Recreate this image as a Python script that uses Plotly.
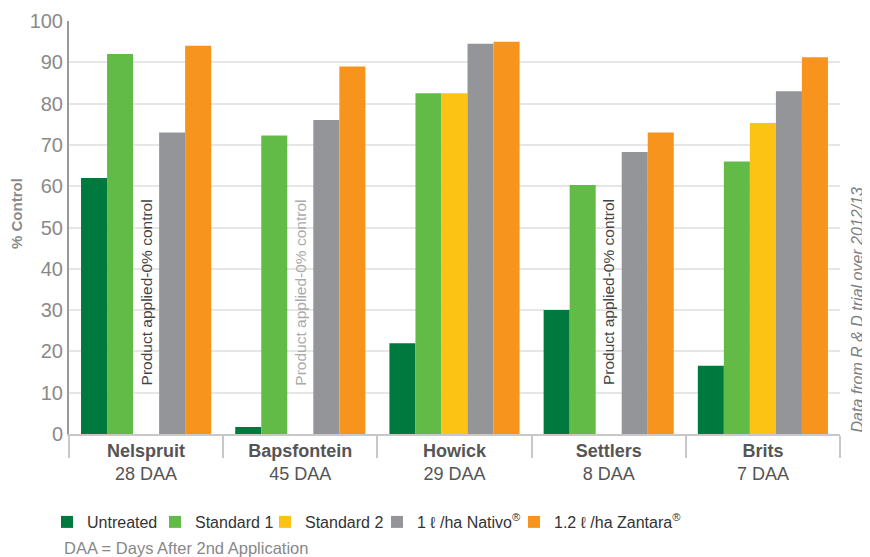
import plotly.graph_objects as go

sites = ["Nelspruit", "Bapsfontein", "Howick", "Settlers", "Brits"]
daa = ["28 DAA", "45 DAA", "29 DAA", "8 DAA", "7 DAA"]

untreated = [62, 1.7, 22, 30, 16.5]
standard1 = [92, 72.3, 82.5, 60.3, 66]
standard2 = [None, None, 82.5, None, 75.3]
nativo = [73, 76, 94.5, 68.3, 83]
zantara = [94, 89, 95, 73, 91.2]

series_names = ["Untreated", "Standard 1", "Standard 2",
                "1 \u2113 /ha Nativo<sup>®</sup>", "1.2 \u2113 /ha Zantara<sup>®</sup>"]
series_values = [untreated, standard1, standard2, nativo, zantara]
colors = ["#00793F", "#62BB46", "#FDC314", "#939598", "#F7941D"]

note_sites = ["Nelspruit", "Bapsfontein", "Settlers"]
note_colors = ["#444444", "#aaaaaa", "#444444"]
note_text = "Product applied-0% control"

FONT = "Liberation Sans"
W, H = 862, 549          # page body has an 8px offset
L, T, R, B = 61, 13, 30, 123
pw = W - L - R
ph = H - T - B

# legend entry left edges (figure px)
legend_x = [39, 147, 257, 369, 506]
legend_names = ["legend", "legend2", "legend3", "legend4", "legend5"]

fig = go.Figure()
for name, vals, c, lg in zip(series_names, series_values, colors, legend_names):
    fig.add_trace(go.Bar(x=sites, y=vals, name=name, legend=lg,
                         marker=dict(color=c, line=dict(width=0))))

ticktext = [f"<b>{s}</b><br>{d}" for s, d in zip(sites, daa)]

for s, c in zip(note_sites, note_colors):
    fig.add_annotation(x=s, y=34.3, xref="x", yref="y", text=note_text, textangle=-90,
                       xanchor="center", yanchor="middle",
                       showarrow=False, font=dict(family=FONT, size=15.5, color=c))

fig.add_annotation(xref="paper", yref="paper", x=(8 - L) / pw, y=(ph + T - 205) / ph,
                   xanchor="center", yanchor="middle",
                   text="<b>% Control</b>", textangle=-90, showarrow=False,
                   font=dict(family=FONT, size=15, color="#8a8a8a"))
fig.add_annotation(xref="paper", yref="paper", x=(859 - L) / pw, y=(ph + T - 302) / ph,
                   xanchor="right", yanchor="middle",
                   text="<i>Data from R &amp; D trial over 2012/13</i>",
                   textangle=-90, showarrow=False, font=dict(family=FONT, size=16, color="#808080"))
fig.add_annotation(xref="paper", yref="paper", x=(54 - L) / pw, y=(ph + T - 540) / ph,
                   xanchor="left", yanchor="middle",
                   text="DAA = Days After 2nd Application", showarrow=False,
                   font=dict(family=FONT, size=16.5, color="#888888"))

layout_legends = {}
for lg, lx in zip(legend_names, legend_x):
    layout_legends[lg] = dict(orientation="h", xref="paper", yref="paper",
                              x=(lx - L) / pw, y=(ph + T - 514) / ph,
                              xanchor="left", yanchor="middle",
                              font=dict(family=FONT, size=16, color="#333333"),
                              bgcolor="rgba(0,0,0,0)", borderwidth=0, itemclick=False)

fig.update_layout(
    width=W, height=H,
    margin=dict(l=L, r=R, t=T, b=B, autoexpand=False),
    plot_bgcolor="white", paper_bgcolor="white",
    barmode="group", bargap=0.156, bargroupgap=0,
    font=dict(family=FONT),
    showlegend=True,
    xaxis=dict(tickmode="array", tickvals=sites, ticktext=ticktext,
               tickfont=dict(family=FONT, size=18, color="#555555"),
               showline=True, linecolor="#c8c8c8", linewidth=2,
               ticks="outside", tickson="boundaries", ticklen=22, tickcolor="#c8c8c8", tickwidth=2,
               ticklabelstandoff=-1, showgrid=False, fixedrange=True, automargin=False),
    yaxis=dict(range=[0, 100], dtick=10, showgrid=True, gridcolor="#e6e6e6", gridwidth=2,
               showline=True, linecolor="#999999", linewidth=2,
               tickfont=dict(family=FONT, size=20, color="#8a8a8a"),
               zeroline=False, ticks="", fixedrange=True, automargin=False),
    **layout_legends,
)

fig.write_html("out.html")
